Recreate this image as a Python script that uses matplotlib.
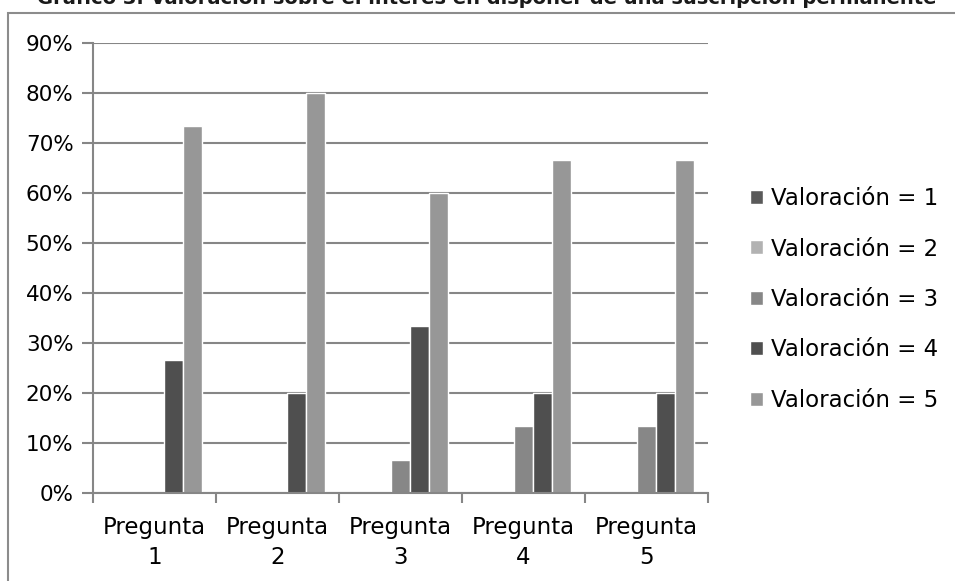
import numpy as np
import matplotlib
matplotlib.use("Agg")
from matplotlib import pyplot as plt
from matplotlib.patches import Rectangle
from matplotlib.ticker import PercentFormatter, FixedLocator

# data
preguntas = ["Pregunta\n1", "Pregunta\n2", "Pregunta\n3", "Pregunta\n4", "Pregunta\n5"]
series = ["Valoración = 1", "Valoración = 2", "Valoración = 3",
          "Valoración = 4", "Valoración = 5"]
v1 = [0.0, 0.0, 0.0, 0.0, 0.0]
v2 = [0.0, 0.0, 0.0, 0.0, 0.0]
v3 = [0.0, 0.0, 0.0667, 0.1333, 0.1333]
v4 = [0.2667, 0.20, 0.3333, 0.20, 0.20]
v5 = [0.7333, 0.80, 0.60, 0.6667, 0.6667]
colores = ["#5a5a5a", "#b2b2b2", "#878787", "#4f4f4f", "#979797"]

title = "Gráfico 3. Valoración sobre el interés en disponer de una suscripción permanente"

plt.rcParams['font.family'] = ['DejaVu Sans']
W, H = 955, 581
fig = plt.figure(figsize=(W / 100, H / 100), dpi=100)

# outer chart border (runs off right/bottom edge like the crop)
fig.patches.append(Rectangle((8 / W, -0.1), 1.1, 1 - 13 / H + 0.1,
                             transform=fig.transFigure, fill=False,
                             edgecolor="#8c8c8c", linewidth=1.5, clip_on=False))

# title, cut off at the top as in the source
fig.text(487 / W, 1 - 3.5 / H, title, ha="center", va="baseline",
         fontsize=14, fontweight="bold", color="#1a1a1a")

ax = fig.add_axes([93 / W, 88 / H, (708 - 93) / W, (493 - 43) / H])

x = np.arange(len(preguntas))
bw = 1 / 6.5
valores = [v1, v2, v3, v4, v5]
for i, (vals, name, c) in enumerate(zip(valores, series, colores)):
    ax.bar(x + (i - 2) * bw, vals, width=bw, color=c, edgecolor="white",
           linewidth=1, label=name, zorder=2)

ax.set_xlim(-0.5, len(preguntas) - 0.5)
ax.set_ylim(0, 0.9)
ax.yaxis.set_major_locator(FixedLocator(np.arange(0, 0.91, 0.1)))
ax.yaxis.set_major_formatter(PercentFormatter(1.0, decimals=0))
ax.set_axisbelow(True)
ax.grid(axis="y", color="#868686", linewidth=1.5)

ax.set_xticks(x)
ax.set_xticklabels(preguntas, fontsize=16.5, linespacing=1.4)
ax.xaxis.set_minor_locator(FixedLocator(np.arange(-0.5, len(preguntas), 1)))
ax.tick_params(axis="x", which="major", length=0, pad=16.5)
ax.tick_params(axis="x", which="minor", length=7, width=1.5, color="#868686")
ax.tick_params(axis="y", length=8, width=1.5, color="#868686", labelsize=15.5, pad=6)

for s in ["top", "right"]:
    ax.spines[s].set_visible(False)
for s in ["left", "bottom"]:
    ax.spines[s].set_color("#868686")
    ax.spines[s].set_linewidth(1.5)
    ax.spines[s].set_zorder(3)

leg = ax.legend(loc="center left", bbox_to_anchor=(1.035, 0.43), frameon=False,
                fontsize=16.5, handlelength=0.55, handleheight=0.55,
                handletextpad=0.35, labelspacing=1.2)

fig.savefig("out.png", dpi=100)
